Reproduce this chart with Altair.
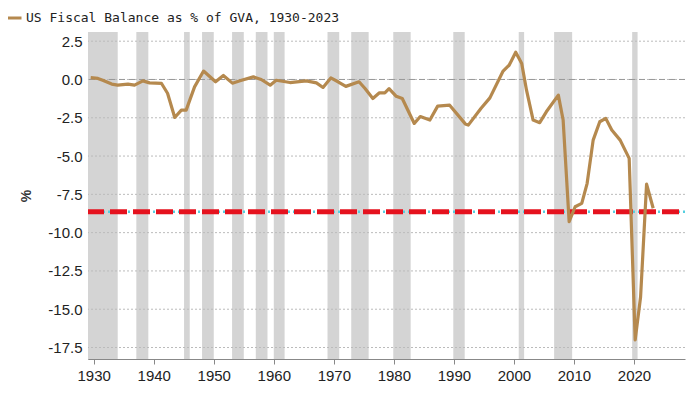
import altair as alt
import pandas as pd

# Fiscal balance line (% of GVA)
years = [1929.5, 1930.7, 1931.5, 1933.0, 1934.0, 1935.7, 1936.8, 1938.2, 1939.3, 1941.3,
         1942.3, 1943.5, 1944.6, 1945.4, 1946.8, 1948.3, 1950.3, 1951.6, 1953.1, 1954.5,
         1956.6, 1957.9, 1959.4, 1960.4, 1962.7, 1965.4, 1967.1, 1968.2, 1969.5, 1970.7,
         1972.0, 1974.2, 1975.2, 1976.5, 1977.6, 1978.5, 1979.2, 1980.4, 1981.4, 1983.4,
         1984.4, 1986.0, 1987.3, 1989.3, 1991.9, 1992.4, 1994.5, 1996.0, 1998.2, 1999.2,
         2000.3, 2001.3, 2002.1, 2003.2, 2004.3, 2005.4, 2007.4, 2008.2, 2009.2, 2010.2,
         2011.3, 2012.2, 2013.2, 2014.3, 2015.3, 2016.3, 2017.7, 2019.2, 2020.2, 2021.1,
         2022.1, 2023.2]
balance = [0.12, 0.07, -0.05, -0.30, -0.37, -0.30, -0.37, -0.09, -0.22, -0.26,
           -0.90, -2.48, -2.00, -2.00, -0.48, 0.55, -0.15, 0.26, -0.24, -0.07,
           0.17, 0.00, -0.37, -0.05, -0.20, -0.09, -0.22, -0.52, 0.10, -0.15,
           -0.45, -0.15, -0.59, -1.24, -0.87, -0.87, -0.60, -1.10, -1.24, -2.87,
           -2.42, -2.65, -1.74, -1.68, -2.90, -2.98, -1.90, -1.20, 0.55, 0.93,
           1.78, 1.04, -0.70, -2.65, -2.82, -2.11, -1.02, -2.65, -9.29, -8.31,
           -8.09, -6.78, -3.96, -2.76, -2.54, -3.30, -3.96, -5.15, -17.00, -14.20,
           -6.83, -8.41]

# Recession shading (start, end)
rec_start = [1929.05, 1937.1, 1945.05, 1948.05, 1953.05, 1957.0, 1960.0, 1968.95, 1972.9,
             1979.9, 1989.9, 2000.8, 2006.7, 2019.7]
rec_end = [1934.0, 1939.1, 1946.0, 1950.0, 1955.0, 1958.95, 1961.8, 1970.9, 1975.8,
           1982.8, 1991.8, 2001.7, 2009.7, 2020.6]

current_level = -8.64
series_name = "US Fiscal Balance as % of GVA, 1930-2023"

y_ticks = [2.5, 0.0, -2.5, -5.0, -7.5, -10.0, -12.5, -15.0, -17.5]
x_ticks = [1930, 1940, 1950, 1960, 1970, 1980, 1990, 2000, 2010, 2020]

line_df = pd.DataFrame({"year": years, "value": balance, "series": series_name})
rec_df = pd.DataFrame({"start": rec_start, "end": rec_end})

x_scale = alt.Scale(domain=[1929.05, 2028.5], nice=False, zero=False)
y_scale = alt.Scale(domain=[-18.25, 3.1], nice=False, zero=False)

bands = alt.Chart(rec_df).mark_rect(color="#D4D4D4").encode(
    x=alt.X("start:Q", scale=x_scale,
            axis=alt.Axis(values=x_ticks, format="d", title=None, grid=False,
                          labelFont="Liberation Sans", labelFontSize=15, labelColor="#222",
                          domainColor="#888", tickColor="#888", tickSize=5, labelPadding=4)),
    x2="end:Q",
)

grid = alt.Chart(pd.DataFrame({"v": y_ticks})).mark_rule(
    color="#BBBBBB", strokeDash=[2, 2], strokeWidth=1
).encode(y=alt.Y("v:Q", scale=y_scale))

zero = alt.Chart(pd.DataFrame({"v": [0.0]})).mark_rule(
    color="#999999", strokeDash=[6, 4], strokeWidth=1
).encode(y=alt.Y("v:Q", scale=y_scale))

cyan = alt.Chart(pd.DataFrame({"v": [current_level]})).mark_rule(
    color="#55CFE0", strokeDash=[2, 3], strokeWidth=2.5
).encode(y=alt.Y("v:Q", scale=y_scale))

red = alt.Chart(pd.DataFrame({"v": [current_level]})).mark_rule(
    color="#E5121E", strokeDash=[17, 6], strokeDashOffset=17, strokeWidth=5
).encode(y=alt.Y("v:Q", scale=y_scale))

line = alt.Chart(line_df).mark_line(strokeWidth=3.2, strokeJoin="round").encode(
    x=alt.X("year:Q", scale=x_scale),
    y=alt.Y("value:Q", scale=y_scale,
            axis=alt.Axis(values=y_ticks, format=".1f", title="%", grid=False, ticks=False,
                          labelExpr="replace(datum.label, '\u2212', '-')",
                          labelFont="Liberation Sans", labelFontSize=15, labelColor="#222",
                          labelPadding=6, domainColor="#888",
                          titleFont="Liberation Sans", titleFontSize=14, titleFontWeight="bold",
                          titleColor="#333", titlePadding=14)),
    color=alt.Color("series:N", scale=alt.Scale(range=["#B5894E"]),
                    legend=alt.Legend(orient="none", legendX=-83, legendY=-23, title=None,
                                      symbolType="stroke", symbolStrokeWidth=3, symbolSize=225,
                                      labelFont="DejaVu Sans Mono", labelFontSize=13,
                                      labelColor="#222", padding=0, labelOffset=3,
                                      labelLimit=0)),
)

chart = alt.layer(bands, grid, zero, cyan, red, line).properties(
    width=597, height=327,
    autosize=alt.AutoSizeParams(type="none"),
    padding={"left": 80, "top": 24, "right": 7, "bottom": 27},
).configure_view(stroke=None)

chart.save("out.html", embed_options={"renderer": "svg", "actions": False})
